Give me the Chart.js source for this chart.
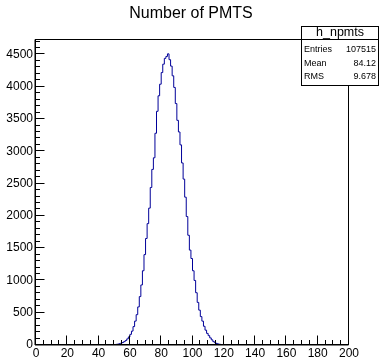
<!DOCTYPE html>
<html><head><meta charset="utf-8">
<script src="https://cdn.jsdelivr.net/npm/chart.js@4/dist/chart.umd.min.js"></script>
<style>html,body{margin:0;padding:0;background:#fff}canvas{display:block}</style>
</head><body>
<canvas id="c" width="380" height="359"></canvas>
<script>
const chartTitle = 'Number of PMTS';
const histName = 'h_npmts';
const statLabels = ['Entries', 'Mean', 'RMS'];
const statValues = ['107515', '84.12', '9.678'];
const binLowEdge = 0;
const binWidth = 1;
const xTickLabels = [0, 20, 40, 60, 80, 100, 120, 140, 160, 180, 200];
const yTickLabels = [0, 500, 1000, 1500, 2000, 2500, 3000, 3500, 4000, 4500];
const counts = [
  0,0,0,0,0,0,0,0,0,0,0,0,
  0,0,0,0,0,0,0,0,0,0,0,0,
  0,0,0,0,0,0,0,0,0,0,0,0,
  0,0,0,0,0,0,0,0,0,0,0,0,
  3,5,7,10,14,20,28,38,52,70,95,125,
  165,215,285,370,470,590,750,930,1150,1400,
  1650,1880,2120,2440,2720,2900,3280,3620,3860,4040,
  4220,4350,4440,4470,4510,4420,4320,4170,3990,3740,
  3480,3300,3100,2820,2570,2290,1990,1700,1470,1340,
  1150,1000,810,660,540,440,370,290,230,180,
  145,110,80,52,36,24,16,11,7,5,3,2,1,
  0,0,0,0,0,0,0,0,0,0,0,
  0,0,0,0,0,0,0,0,0,0,0,
  0,0,0,0,0,0,0,0,0,0,0,
  0,0,0,0,0,0,0,0,0,0,0,
  0,0,0,0,0,0,0,0,0,0,0,
  0,0,0,0,0,0,0,0,0,0,0,
  0,0,0,0,0,0,0,0,0,0,0
];

const FONT = "'Liberation Sans', Arial, Helvetica, sans-serif";
const points = counts.map((c, i) => ({ x: binLowEdge + i * binWidth, y: c }));
points.push({ x: binLowEdge + counts.length * binWidth, y: counts[counts.length - 1] });

const rootFrame = {
  id: 'rootFrame',
  afterDraw(chart) {
    const ctx = chart.ctx, ca = chart.chartArea;
    const xs = chart.scales.x, ys = chart.scales.y;
    ctx.save();
    ctx.strokeStyle = '#000';
    ctx.lineWidth = 1;
    const L = Math.round(ca.left) - 0.5, R = Math.round(ca.right) - 0.5;
    const T = Math.round(ca.top) + 0.5, B = Math.round(ca.bottom) - 0.5;
    ctx.strokeRect(L, T, R - L, B - T);
    ctx.beginPath();
    ctx.moveTo(L - 0.5, T); ctx.lineTo(L - 0.5, B + 0.5); ctx.lineTo(R, B + 0.5);
    ctx.lineWidth = 1;
    ctx.stroke();
    ctx.beginPath();
    for (let v = xs.min; v <= xs.max; v += 5) {
      const px = Math.round(xs.getPixelForValue(v)) - 0.5;
      const len = v % 20 === 0 ? 9 : 4.5;
      ctx.moveTo(px, B); ctx.lineTo(px, B - len);
    }
    for (let v = 0; v <= ys.max; v += 100) {
      const py = Math.round(ys.getPixelForValue(v)) - 0.5;
      const len = v % 500 === 0 ? 9 : 4.5;
      ctx.moveTo(L, py); ctx.lineTo(L + len, py);
    }
    ctx.stroke();

    // title
    ctx.fillStyle = '#000';
    ctx.font = '16px ' + FONT;
    ctx.textAlign = 'center';
    ctx.textBaseline = 'middle';
    ctx.fillText(chartTitle, 191, 14);

    // stats box
    const bx = 301.5, by = 26.5, bw = 77, bh = 59;
    ctx.fillStyle = '#fff';
    ctx.fillRect(bx, by, bw, bh);
    ctx.strokeRect(bx, by, bw, bh);
    ctx.beginPath();
    ctx.moveTo(bx, 39.5); ctx.lineTo(bx + bw, 39.5);
    ctx.stroke();
    ctx.fillStyle = '#000';
    ctx.font = '12.5px ' + FONT;
    ctx.textAlign = 'center';
    ctx.fillText(histName, bx + bw / 2, 33);
    ctx.font = '9px ' + FONT;
    const rowsY = [50, 63.5, 77];
    statLabels.forEach((lab, i) => {
      ctx.textAlign = 'left';
      ctx.fillText(lab, 304, rowsY[i]);
      ctx.textAlign = 'right';
      ctx.fillText(statValues[i], 376, rowsY[i]);
    });
    ctx.restore();
  }
};

new Chart(document.getElementById('c'), {
  type: 'line',
  data: {
    datasets: [{
      data: points,
      borderColor: '#000099',
      borderWidth: 1,
      stepped: 'before',
      fill: false,
      pointRadius: 0,
      tension: 0
    }]
  },
  options: {
    responsive: false,
    animation: false,
    devicePixelRatio: 1,
    layout: { padding: { top: 39, right: 31, left: 0, bottom: 0 } },
    plugins: { legend: { display: false }, tooltip: { enabled: false }, title: { display: false } },
    scales: {
      x: {
        type: 'linear', min: 0, max: 200,
        grid: { display: false, drawTicks: false },
        border: { display: false },
        afterFit(s) { s.height = 14; },
        afterBuildTicks(s) { s.ticks = xTickLabels.map(v => ({ value: v })); },
        ticks: { autoSkip: false, maxRotation: 0, padding: 1, color: '#000', font: { family: FONT, size: 12 }, callback: v => String(v) }
      },
      y: {
        type: 'linear', min: 0, max: 4740,
        grid: { display: false, drawTicks: false },
        border: { display: false },
        afterFit(s) { s.width = 36; },
        afterBuildTicks(s) { s.ticks = yTickLabels.map(v => ({ value: v })); },
        ticks: { autoSkip: false, padding: 3, color: '#000', font: { family: FONT, size: 12 }, callback: v => String(v) }
      }
    }
  },
  plugins: [rootFrame]
});
</script>
</body></html>
